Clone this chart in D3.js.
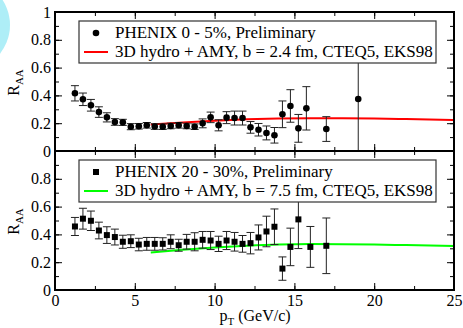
<!DOCTYPE html>
<html>
<head>
<meta charset="utf-8">
<script src="https://cdn.jsdelivr.net/npm/d3@7"></script>
<style>
  body { margin: 0; background: white; }
  svg { display: block; font-family: "Liberation Serif", "DejaVu Serif", serif; }
</style>
</head>
<body>
<div id="chart-area"></div>
<script>
// PHENIX 0-5%
var ptTop = [1.25,1.75,2.25,2.75,3.25,3.75,4.25,4.75,5.25,5.75,6.25,6.75,7.25,7.75,8.25,8.75,
  9.25,9.75,10.25,10.75,11.25,11.75,12.25,12.75,13.25,13.75,14.25,14.75,15.25,15.75,17,19];
var raaTop = [0.415,0.372,0.329,0.28,0.242,0.209,0.206,0.175,0.178,0.185,0.176,0.175,0.18,0.185,0.18,0.175,
  0.199,0.242,0.185,0.24,0.237,0.237,0.17,0.153,0.13,0.113,0.264,0.324,0.163,0.307,0.158,0.374];
var errTop = [0.055,0.045,0.042,0.038,0.033,0.024,0.022,0.022,0.02,0.02,0.02,0.02,0.02,0.02,0.02,0.02,
  0.032,0.038,0.04,0.043,0.05,0.05,0.042,0.045,0.05,0.056,0.096,0.117,0.1,0.156,0.089,0.374];

// PHENIX 20-30%
var ptBot = [1.25,1.75,2.25,2.75,3.25,3.75,4.25,4.75,5.25,5.75,6.25,6.75,7.25,7.75,8.25,8.75,
  9.25,9.75,10.25,10.75,11.25,11.75,12.25,12.75,13.25,13.75,14.25,14.75,15.25,16,17];
var raaBot = [0.457,0.513,0.498,0.428,0.395,0.381,0.347,0.351,0.327,0.332,0.332,0.332,0.347,0.322,0.347,0.347,
  0.361,0.356,0.332,0.356,0.347,0.332,0.337,0.378,0.421,0.455,0.154,0.31,0.508,0.31,0.318];
var errBot = [0.065,0.075,0.07,0.06,0.06,0.057,0.047,0.046,0.045,0.046,0.046,0.044,0.05,0.043,0.053,0.065,
  0.06,0.065,0.055,0.065,0.067,0.06,0.077,0.09,0.11,0.128,0.084,0.135,0.21,0.147,0.2];

// hydro + AMY curves
var curvePt = [6,8,10,12,14,16,18,20,22,25];
var curveTop = [0.19,0.205,0.218,0.228,0.234,0.236,0.236,0.234,0.23,0.223];
var curveBot = [0.27,0.29,0.306,0.318,0.327,0.331,0.33,0.327,0.323,0.317];

var legendTop = ["PHENIX 0 - 5%, Preliminary", "3D hydro + AMY, b = 2.4 fm, CTEQ5, EKS98"];
var legendBot = ["PHENIX 20 - 30%, Preliminary", "3D hydro + AMY, b = 7.5 fm, CTEQ5, EKS98"];

var svg = d3.select("#chart-area").append("svg").attr("width", 463).attr("height", 328);

// decoration circle top-left
svg.append("circle").attr("cx", -36).attr("cy", 25).attr("r", 46).attr("fill", "#aeeef7");

var x = d3.scaleLinear().domain([0, 25]).range([55, 454]);

function panel(y0, y1, pts, vals, errs, cpt, cvals, color, symbol, legend, showXLabels, yLabels) {
  var y = d3.scaleLinear().domain([0, 1]).range([y1, y0]);
  var g = svg.append("g");

  // ticks
  var minorX = d3.range(0, 25.01, 2.5);
  var majorX = d3.range(0, 25.01, 5);
  var minorY = d3.range(0, 1.01, 0.1);
  var majorY = yLabels;

  g.append("g").attr("transform", "translate(0," + y1 + ")")
    .call(d3.axisBottom(x).tickValues(minorX).tickSize(-4).tickFormat(""));
  g.append("g").attr("transform", "translate(0," + y1 + ")")
    .call(d3.axisBottom(x).tickValues(majorX).tickSizeInner(-7).tickSizeOuter(0).tickPadding(5)
      .tickFormat(showXLabels ? d3.format("d") : ""));
  g.append("g").attr("transform", "translate(0," + y0 + ")")
    .call(d3.axisTop(x).tickValues(minorX).tickSize(-4).tickFormat(""));
  g.append("g").attr("transform", "translate(0," + y0 + ")")
    .call(d3.axisTop(x).tickValues(majorX).tickSize(-7).tickFormat(""));

  g.append("g").attr("transform", "translate(55,0)")
    .call(d3.axisLeft(y).tickValues(minorY).tickSize(-4).tickFormat(""));
  g.append("g").attr("transform", "translate(55,0)")
    .call(d3.axisLeft(y).tickValues(majorY).tickSizeInner(-7).tickSizeOuter(0).tickPadding(4)
      .tickFormat(function(d) { return d === 0 || d === 1 ? d3.format("d")(d) : d3.format(".1f")(d); }));
  g.append("g").attr("transform", "translate(454,0)")
    .call(d3.axisRight(y).tickValues(minorY).tickSize(-4).tickFormat(""));
  g.append("g").attr("transform", "translate(454,0)")
    .call(d3.axisRight(y).tickValues(d3.range(0, 1.01, 0.2)).tickSize(-7).tickFormat(""));

  g.selectAll(".domain").remove();
  g.selectAll(".tick line").attr("stroke", "black").attr("stroke-width", 1);
  g.selectAll(".tick text").attr("font-size", "16px").attr("fill", "black")
    .attr("font-family", "Liberation Serif, serif");

  // model curve
  var line = d3.line().x(function(d) { return x(d[0]); }).y(function(d) { return y(d[1]); })
    .curve(d3.curveMonotoneX);
  g.append("path").datum(d3.zip(cpt, cvals)).attr("d", line)
    .attr("fill", "none").attr("stroke", color).attr("stroke-width", 2);

  // error bars
  var data = d3.zip(pts, vals, errs);
  var eb = g.append("g").attr("stroke", "#222").attr("stroke-width", 1);
  eb.selectAll(".v").data(data).enter().append("line")
    .attr("x1", function(d) { return x(d[0]); }).attr("x2", function(d) { return x(d[0]); })
    .attr("y1", function(d) { return y(Math.min(1, d[1] + d[2])); })
    .attr("y2", function(d) { return y(Math.max(0, d[1] - d[2])); });
  eb.selectAll(".t").data(data).enter().append("line")
    .attr("x1", function(d) { return x(d[0]) - 4; }).attr("x2", function(d) { return x(d[0]) + 4; })
    .attr("y1", function(d) { return y(d[1] + d[2]); }).attr("y2", function(d) { return y(d[1] + d[2]); });
  eb.selectAll(".b").data(data).enter().append("line")
    .attr("x1", function(d) { return x(d[0]) - 4; }).attr("x2", function(d) { return x(d[0]) + 4; })
    .attr("y1", function(d) { return y(d[1] - d[2]); }).attr("y2", function(d) { return y(d[1] - d[2]); });

  // markers
  if (symbol === "circle") {
    g.selectAll(".m").data(data).enter().append("circle")
      .attr("cx", function(d) { return x(d[0]); }).attr("cy", function(d) { return y(d[1]); })
      .attr("r", 3.3).attr("fill", "black");
  } else {
    g.selectAll(".m").data(data).enter().append("rect")
      .attr("x", function(d) { return x(d[0]) - 3; }).attr("y", function(d) { return y(d[1]) - 3; })
      .attr("width", 6).attr("height", 6).attr("fill", "black");
  }

  // legend
  var lg = g.append("g").attr("transform", "translate(79," + (y0 + 9) + ")");
  lg.append("rect").attr("width", 357).attr("height", 42)
    .attr("fill", "white").attr("stroke", "#333").attr("stroke-width", 1.2);
  if (symbol === "circle") {
    lg.append("circle").attr("cx", 17).attr("cy", 12).attr("r", 3.3).attr("fill", "black");
  } else {
    lg.append("rect").attr("x", 14).attr("y", 9).attr("width", 6).attr("height", 6).attr("fill", "black");
  }
  lg.append("line").attr("x1", 5).attr("x2", 29).attr("y1", 31).attr("y2", 31)
    .attr("stroke", color).attr("stroke-width", 2);
  lg.selectAll("text").data(legend).enter().append("text")
    .attr("x", 36).attr("y", function(d, i) { return 17 + i * 19; })
    .attr("font-size", "17px").text(function(d) { return d; });

  // frame
  g.append("rect").attr("x", 55).attr("y", y0).attr("width", 399).attr("height", y1 - y0)
    .attr("fill", "none").attr("stroke", "black").attr("stroke-width", 2);

  // y label
  var yl = g.append("text").attr("transform", "translate(19," + ((y0 + y1) / 2 + 1) + ") rotate(-90)")
    .attr("text-anchor", "middle").attr("font-size", "16px");
  yl.append("tspan").text("R");
  yl.append("tspan").attr("font-size", "11px").attr("dy", 4).text("AA");

  return y;
}

panel(12, 151, ptTop, raaTop, errTop, curvePt, curveTop, "#ff0000", "circle", legendTop, false,
  [0, 0.2, 0.4, 0.6, 0.8, 1]);
panel(151, 290, ptBot, raaBot, errBot, curvePt, curveBot, "#00ff00", "square", legendBot, true,
  [0, 0.2, 0.4, 0.6, 0.8]);

// x label
var xl = svg.append("text").attr("x", 255).attr("y", 321).attr("text-anchor", "middle").attr("font-size", "16px");
xl.append("tspan").text("p");
xl.append("tspan").attr("font-size", "11px").attr("dy", 4).text("T");
xl.append("tspan").attr("dy", -4).text(" (GeV/c)");
</script>
</body>
</html>
